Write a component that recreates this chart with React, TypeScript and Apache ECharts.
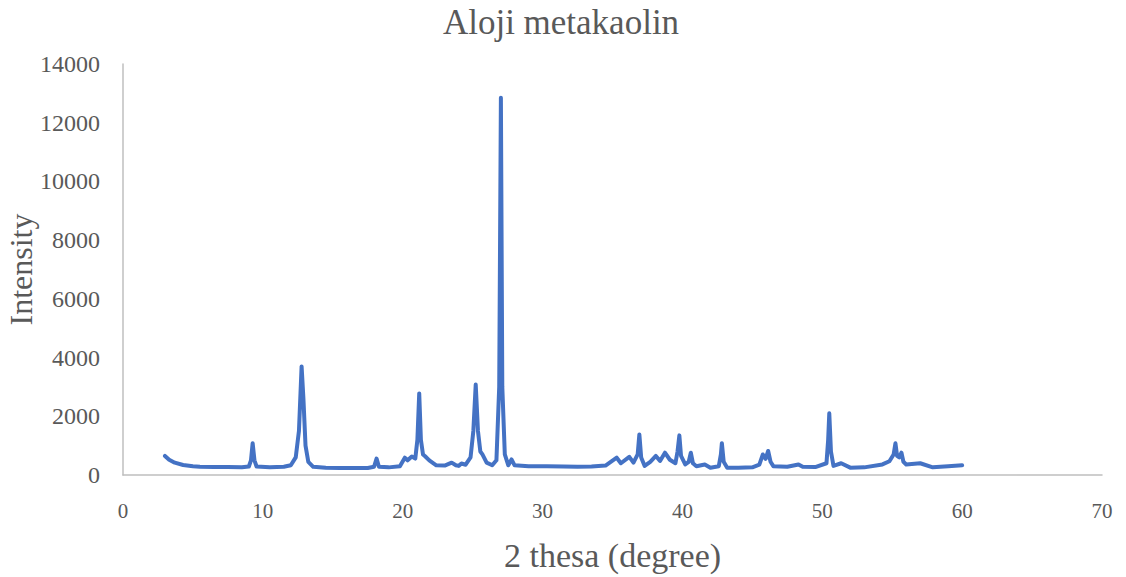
import React, { useEffect, useRef } from "react";
import * as echarts from "echarts";

const chartTitle = "Aloji metakaolin";
const xAxisName = "2 thesa (degree)";
const yAxisName = "Intensity";

const twoTheta: number[] = [
  3.0, 3.3, 3.7, 4.3, 5.0, 5.5, 6.5, 7.5, 8.5, 9.0, 9.15, 9.27, 9.4, 9.55, 10.5, 11.5,
  12.0, 12.35, 12.58, 12.77, 12.9, 13.05, 13.25, 13.6, 14.5, 15.5, 16.5, 17.5, 17.95, 18.13,
  18.3, 19.0, 19.8, 20.15, 20.35, 20.65, 20.9, 21.05, 21.18, 21.3, 21.45, 21.6, 21.9, 22.4,
  23.0, 23.5, 23.8, 24.0, 24.2, 24.5, 24.85, 25.05, 25.22, 25.38, 25.55, 25.7, 26.0, 26.4,
  26.7, 26.9, 27.02, 27.12, 27.3, 27.55, 27.78, 28.0, 29.0, 30.3, 31.5, 32.5, 33.5, 34.5,
  35.3, 35.6, 36.2, 36.5, 36.8, 36.92, 37.05, 37.3, 37.7, 38.1, 38.4, 38.75, 39.1, 39.5,
  39.65, 39.78, 39.9, 40.2, 40.45, 40.6, 40.75, 41.0, 41.6, 42.0, 42.6, 42.75, 42.82, 42.95,
  43.2, 44.0, 45.0, 45.5, 45.75, 45.95, 46.13, 46.3, 46.5, 47.5, 48.3, 48.6, 49.5, 50.3,
  50.42, 50.5, 50.62, 50.8, 51.35, 52.0, 53.0, 54.3, 54.8, 55.1, 55.23, 55.35, 55.5, 55.66,
  55.8, 56.0, 57.0, 57.9, 59.0, 60.0,
];

const intensity: number[] = [
  650, 520, 420, 340, 300, 285, 275, 270, 265, 290, 500, 1080, 500, 290, 265, 280,
  330, 600, 1500, 3700, 2600, 1000, 450, 280, 250, 240, 235, 240, 280, 560,
  280, 260, 300, 590, 500, 630, 560, 1200, 2780, 1200, 700, 640, 500, 330,
  320, 420, 330, 310, 390, 350, 600, 1500, 3080, 1500, 800, 700, 420, 330,
  500, 3000, 12850, 3000, 700, 330, 530, 330, 300, 300, 290, 285, 290, 320,
  590, 400, 620, 420, 700, 1380, 600, 310, 450, 650, 480, 760, 520, 400,
  800, 1350, 650, 360, 450, 760, 400, 300, 360, 250, 300, 700, 1080, 450,
  250, 250, 260, 350, 700, 550, 820, 450, 300, 280, 360, 280, 270, 400,
  1200, 2100, 800, 310, 400, 250, 260, 360, 470, 700, 1080, 650, 600, 760,
  450, 360, 400, 260, 300, 330,
];

const xMin = 0;
const xMax = 70;
const xInterval = 10;
const yMin = 0;
const yMax = 14000;
const yInterval = 2000;

export default function App() {
  const ref = useRef<HTMLDivElement>(null);
  useEffect(() => {
    document.body.style.margin = "0";
    if (!ref.current) return;
    const chart = echarts.init(ref.current, undefined, { renderer: "svg" });
    const font = "'Liberation Serif', 'Times New Roman', serif";
    chart.setOption({
      animation: false,
      backgroundColor: "#ffffff",
      title: {
        text: chartTitle,
        left: 556,
        top: 0,
        textAlign: "center",
        textStyle: { fontFamily: font, fontSize: 35, fontWeight: "normal", color: "#595959" },
      },
      grid: { left: 123, right: 24, top: 64, bottom: 102, containLabel: false, outerBoundsMode: "none" },
      xAxis: {
        type: "value",
        min: xMin,
        max: xMax,
        interval: xInterval,
        name: xAxisName,
        nameLocation: "middle",
        nameGap: 63,
        nameMoveOverlap: false,
        nameTextStyle: { fontFamily: font, fontSize: 34, color: "#595959" },
        axisLine: { show: true, lineStyle: { color: "#BFBFBF", width: 1.5 } },
        axisTick: { show: false },
        splitLine: { show: false },
        axisLabel: { fontFamily: font, fontSize: 21, color: "#595959", margin: 25 },
      },
      yAxis: {
        type: "value",
        min: yMin,
        max: yMax,
        interval: yInterval,
        name: yAxisName,
        nameLocation: "middle",
        nameGap: 86,
        nameMoveOverlap: false,
        nameTextStyle: { fontFamily: font, fontSize: 32, color: "#595959" },
        axisLine: { show: true, lineStyle: { color: "#BFBFBF", width: 1.5 } },
        axisTick: { show: false },
        splitLine: { show: false },
        axisLabel: {
          fontFamily: font,
          fontSize: 24,
          color: "#595959",
          margin: 23,
          formatter: (v: number) => String(v),
          verticalAlign: "middle",
          padding: [12, 0, 0, 0],
        },
      },
      series: [
        {
          type: "line",
          data: twoTheta.map((x, i) => [x, intensity[i]]),
          showSymbol: false,
          symbol: "none",
          lineStyle: { color: "#4472C4", width: 4, join: "round", cap: "round" },
          smooth: false,
        },
      ],
    });
    return () => chart.dispose();
  }, []);
  return <div ref={ref} style={{ width: 1126, height: 577 }} />;
}
